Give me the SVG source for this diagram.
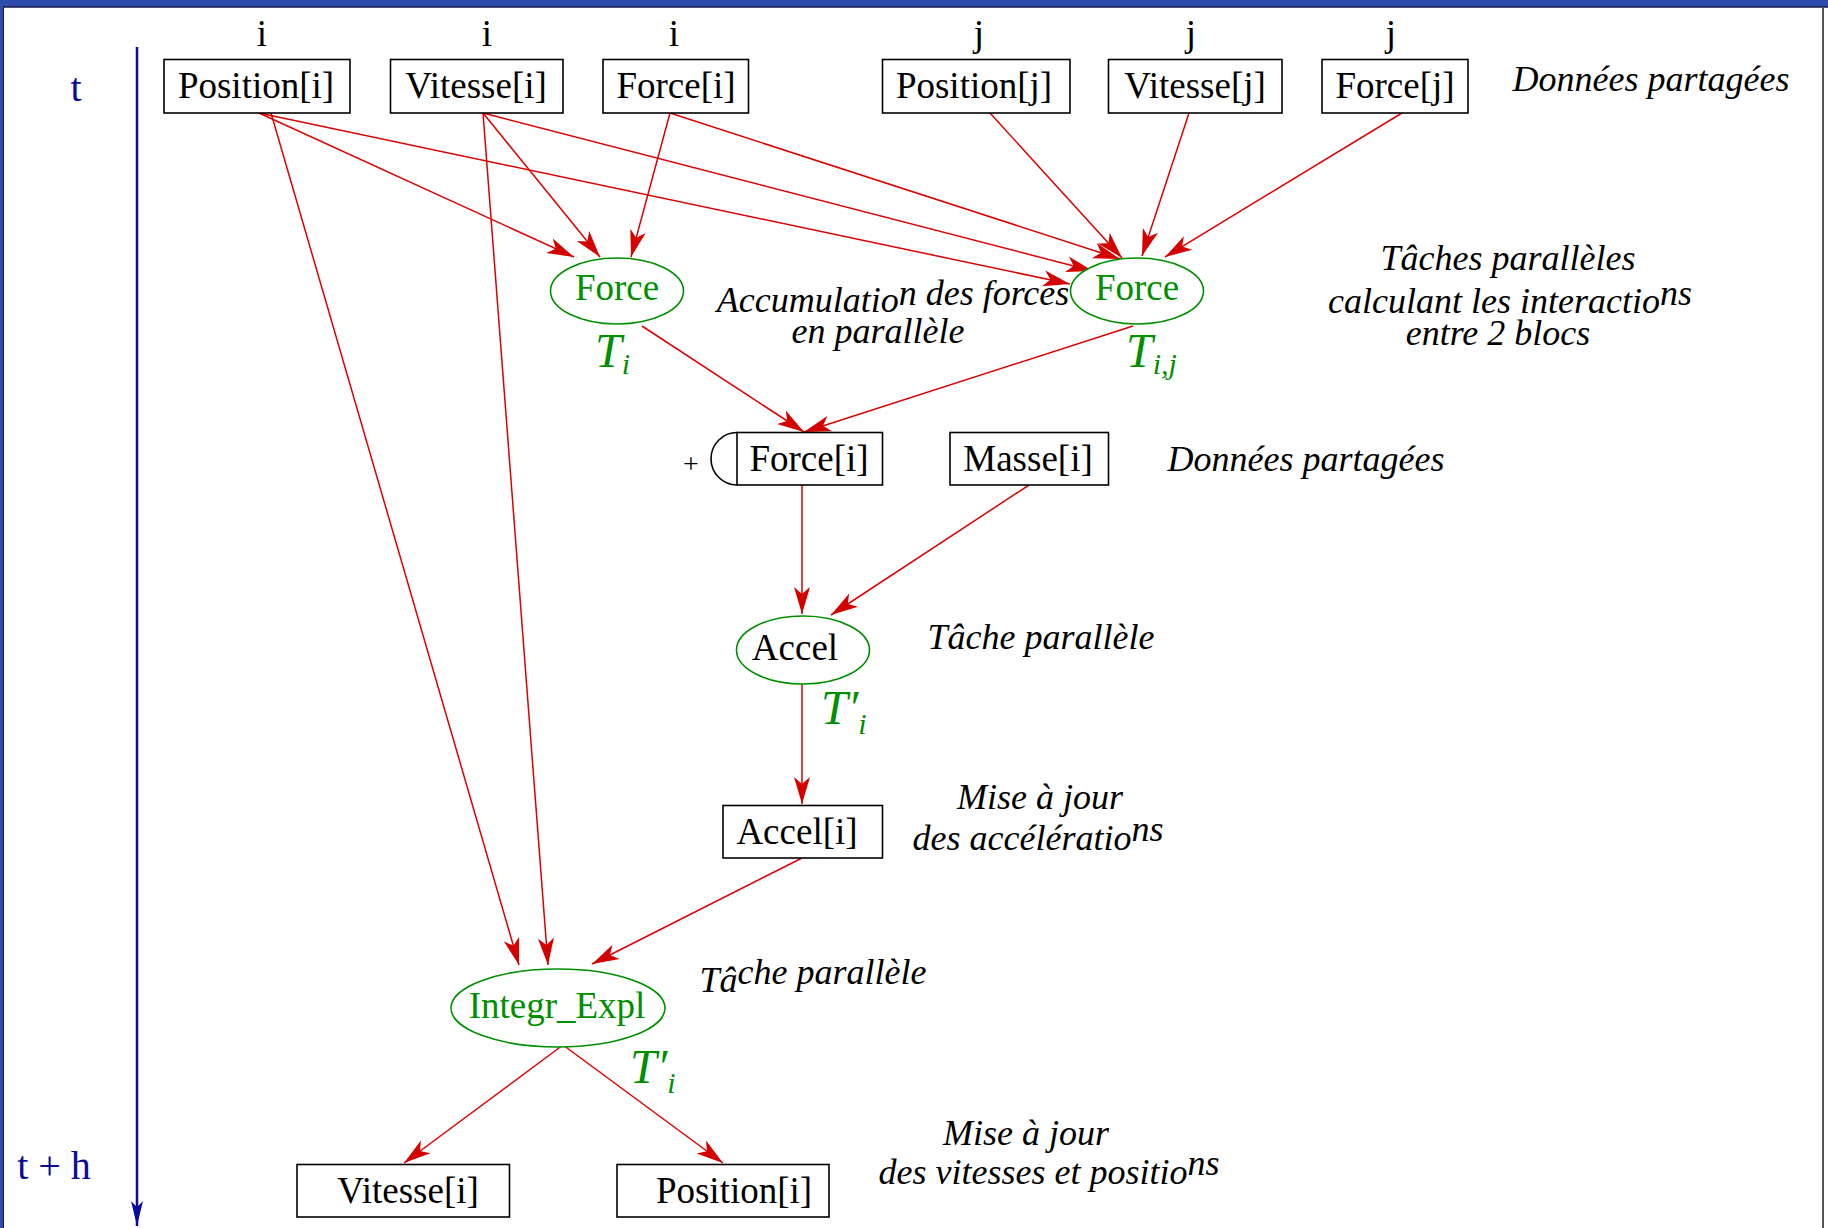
<svg xmlns="http://www.w3.org/2000/svg" width="1828" height="1228" viewBox="0 0 1828 1228">
<style>
.box{fill:#fff;stroke:#000;stroke-width:1.6}
.ell{fill:#fff;stroke:#008f00;stroke-width:1.6}
.lbl{font-family:"Liberation Serif",serif;font-size:37px;text-anchor:middle;fill:#000}
.g{fill:#008f00}
.it{font-family:"Liberation Serif",serif;font-style:italic;font-size:36px;text-anchor:middle;fill:#000}
.tl{font-family:"Liberation Serif",serif;font-style:italic;font-size:48px;fill:#008f00}
.ax{font-family:"Liberation Serif",serif;font-size:40px;text-anchor:middle;fill:#0b0b9a}
.c{fill:none;stroke:#dd0000;stroke-width:1.5;marker-end:url(#ah)}
</style>
<defs>
<marker id="ah" markerUnits="userSpaceOnUse" viewBox="0 0 28 18" markerWidth="28" markerHeight="18" refX="27" refY="9" orient="auto">
<path d="M0,1 L27,9 L0,17 L7,9 Z" fill="#d40000"/>
</marker>
<marker id="bh" markerUnits="userSpaceOnUse" viewBox="0 0 26 16" markerWidth="26" markerHeight="16" refX="25" refY="8" orient="auto">
<path d="M0,2 L25,8 L0,14 L6,8 Z" fill="#0b0b9a"/>
</marker>
</defs>
<rect x="0" y="0" width="1828" height="1228" fill="#fff"/>
<rect x="0" y="0" width="1828" height="7" fill="#2e4cab"/>
<line x1="0" y1="7" x2="1828" y2="7" stroke="#1a1a4a" stroke-width="1.5"/>
<rect x="0" y="0" width="3" height="1228" fill="#2e4cab"/>
<line x1="3.5" y1="7" x2="3.5" y2="1228" stroke="#1a1a4a" stroke-width="1"/>
<line x1="1823" y1="7" x2="1823" y2="1228" stroke="#555" stroke-width="2"/>

<g id="time-axis">
<line x1="137" y1="47" x2="137" y2="1226" stroke="#0b0b9a" stroke-width="2.5" marker-end="url(#bh)"/>
<text class="ax" x="76" y="101">t</text>
<text class="ax" x="54" y="1179">t + h</text>
</g>

<g id="connectors">
<path class="c" d="M259,113 L574,257"/>
<path class="c" d="M259,113 L1070,284"/>
<path class="c" d="M271,113 L519,965"/>
<path class="c" d="M483,113 L600,257"/>
<path class="c" d="M483,113 L1093,271"/>
<path class="c" d="M483,113 L548,965"/>
<path class="c" d="M670,113 L631,257"/>
<path class="c" d="M670,113 L1120,259"/>
<path class="c" d="M990,113 L1122,258"/>
<path class="c" d="M1189,113 L1142,256"/>
<path class="c" d="M1402,113 L1165,257"/>
<path class="c" d="M642,326 L804,432"/>
<path class="c" d="M1133,326 L804,432"/>
<path class="c" d="M802,485 L802,614"/>
<path class="c" d="M1029,485 L831,615"/>
<path class="c" d="M802,684 L802,804"/>
<path class="c" d="M802,858 L592,964"/>
<path class="c" d="M563,1045 L404,1163"/>
<path class="c" d="M563,1045 L723,1163"/>
</g>

<g id="idx-labels">
<text class="lbl" x="262" y="46">i</text>
<text class="lbl" x="487" y="46">i</text>
<text class="lbl" x="674" y="46">i</text>
<text class="lbl" x="979" y="46">j</text>
<text class="lbl" x="1191" y="46">j</text>
<text class="lbl" x="1391" y="46">j</text>
</g>

<g id="position-i"><rect class="box" x="164" y="59.5" width="186" height="53.5"/><text class="lbl" x="256" y="98">Position[i]</text></g>
<g id="vitesse-i"><rect class="box" x="390.5" y="59.5" width="172.5" height="53.5"/><text class="lbl" x="476" y="98">Vitesse[i]</text></g>
<g id="force-i"><rect class="box" x="603" y="59.5" width="145.5" height="53.5"/><text class="lbl" x="676" y="98">Force[i]</text></g>
<g id="position-j"><rect class="box" x="882.5" y="59.5" width="187.5" height="53.5"/><text class="lbl" x="974" y="98">Position[j]</text></g>
<g id="vitesse-j"><rect class="box" x="1108.5" y="59.5" width="173.5" height="53.5"/><text class="lbl" x="1195" y="98">Vitesse[j]</text></g>
<g id="force-j"><rect class="box" x="1322" y="59.5" width="146" height="53.5"/><text class="lbl" x="1395" y="98">Force[j]</text></g>

<g id="task-force-i">
<ellipse class="ell" cx="617" cy="291" rx="66.5" ry="33"/>
<text class="lbl g" x="617" y="300">Force</text>
<text class="tl" x="595" y="367">T<tspan font-size="30" dy="7">i</tspan></text>
</g>
<g id="task-force-ij">
<ellipse class="ell" cx="1137" cy="291" rx="66.5" ry="33"/>
<text class="lbl g" x="1137" y="300">Force</text>
<text class="tl" x="1126" y="367">T<tspan font-size="30" dy="7">i,j</tspan></text>
</g>

<g id="force-i-acc">
<path d="M737,432.5 A26,26.25 0 0 0 737,485" fill="none" stroke="#000" stroke-width="1.6"/>
<rect class="box" x="737" y="432.5" width="145.5" height="52.5"/>
<text class="lbl" x="809" y="471">Force[i]</text>
<text x="691" y="473" font-family="Liberation Serif,serif" font-size="28" text-anchor="middle">+</text>
</g>
<g id="masse-i"><rect class="box" x="950" y="432.5" width="158.5" height="52.5"/><text class="lbl" x="1028" y="471">Masse[i]</text></g>

<g id="task-accel">
<ellipse class="ell" cx="803" cy="650" rx="66.5" ry="34"/>
<text class="lbl" x="795" y="660">Accel</text>
<text class="tl" x="821" y="724">T′<tspan font-size="30" dy="10">i</tspan></text>
</g>

<g id="accel-i"><rect class="box" x="723" y="805.5" width="159.5" height="52.5"/><text class="lbl" x="797" y="844">Accel[i]</text></g>

<g id="task-integr">
<ellipse class="ell" cx="558" cy="1008" rx="107" ry="39"/>
<text class="lbl g" x="557" y="1018">Integr_Expl</text>
<text class="tl" x="630" y="1083">T′<tspan font-size="30" dy="10">i</tspan></text>
</g>

<g id="vitesse-i-out"><rect class="box" x="297" y="1164.5" width="212.5" height="52.5"/><text class="lbl" x="408" y="1203">Vitesse[i]</text></g>
<g id="position-i-out"><rect class="box" x="617" y="1164.5" width="212" height="52.5"/><text class="lbl" x="734" y="1203">Position[i]</text></g>

<g id="annotations">
<text class="it" x="1651" y="91">Données partagées</text>
<text class="it" x="893" y="312">Accumulatio<tspan dy="-7">n des forces</tspan></text>
<text class="it" x="878" y="343">en parallèle</text>
<text class="it" x="1508" y="270">Tâches parallèles</text>
<text class="it" x="1510" y="313">calculant les interactio<tspan dy="-8">ns</tspan></text>
<text class="it" x="1498" y="345">entre 2 blocs</text>
<text class="it" x="1306" y="471">Données partagées</text>
<text class="it" x="1041" y="649">Tâche parallèle</text>
<text class="it" x="1040" y="809">Mise à jour</text>
<text class="it" x="1038" y="850">des accélératio<tspan dy="-9">ns</tspan></text>
<text class="it" x="813" y="992">Tâ<tspan dy="-8">che parallèle</tspan></text>
<text class="it" x="1026" y="1145">Mise à jour</text>
<text class="it" x="1049" y="1184">des vitesses et positio<tspan dy="-9">ns</tspan></text>
</g>
</svg>
